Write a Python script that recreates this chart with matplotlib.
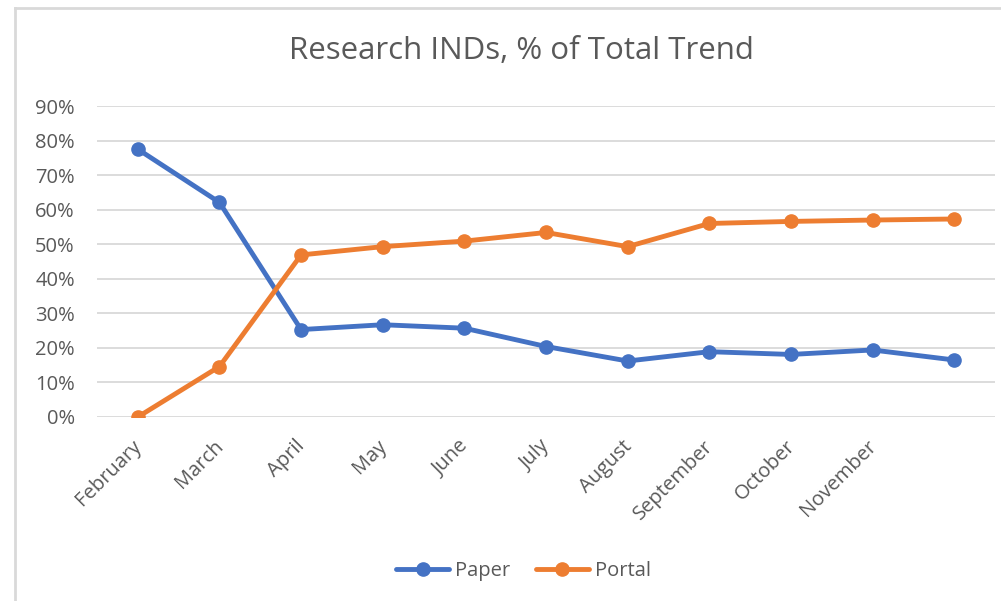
import matplotlib
matplotlib.use("Agg")
import matplotlib.pyplot as plt
from matplotlib.lines import Line2D
from matplotlib.ticker import PercentFormatter
from matplotlib.transforms import ScaledTranslation

# data
months = ["February", "March", "April", "May", "June", "July", "August",
          "September", "October", "November", ""]
paper = [77.5, 62.1, 25.3, 26.7, 25.7, 20.4, 16.2, 18.9, 18.1, 19.4, 16.5]
portal = [0.0, 14.6, 46.9, 49.3, 50.9, 53.4, 49.3, 56.0, 56.6, 57.0, 57.3]

plt.rcParams["font.family"] = ["Open Sans", "DejaVu Sans"]
grey = "#595959"

fig = plt.figure(figsize=(10.01, 6.01), dpi=100)
# chart frame: only the top and left edges are inside the picture
top = 1 - 8 / 601
left = 15 / 1001
fig.add_artist(Line2D([left, 1], [top, top], transform=fig.transFigure,
                      color="#d9d9d9", lw=2))
fig.add_artist(Line2D([left, left], [0, top], transform=fig.transFigure,
                      color="#d9d9d9", lw=2))

ax = fig.add_axes([97 / 1001, 1 - 417 / 601, 898 / 1001, 311 / 601])

x = range(len(months))
ax.plot(x, paper, color="#4472C4", lw=3.5, marker="o", ms=9.5, label="Paper",
        solid_capstyle="round", zorder=3)
ax.plot(x, portal, color="#ED7D31", lw=3.5, marker="o", ms=9.5, label="Portal",
        solid_capstyle="round", zorder=3)

ax.set_xlim(-0.5, len(months) - 0.5)
ax.set_ylim(0, 90)
ax.set_yticks(range(0, 91, 10))
ax.yaxis.set_major_formatter(PercentFormatter(decimals=0))
ax.set_xticks(list(x))
ax.set_xticklabels(months, rotation=45, ha="right", va="top",
                   rotation_mode="anchor")
ax.grid(axis="y", color="#d9d9d9", lw=1.3)
ax.set_axisbelow(True)
for s in ax.spines.values():
    s.set_visible(False)
ax.tick_params(length=0, colors=grey)
ax.tick_params(axis="y", labelsize=14.5, pad=16)
ax.tick_params(axis="x", labelsize=14.5, pad=14)
shift = ScaledTranslation(-6 / 100, 0, fig.dpi_scale_trans)
for lab in ax.get_xticklabels():
    lab.set_transform(lab.get_transform() + shift)

fig.text(0.521, 1 - 51 / 601, "Research INDs, % of Total Trend",
         ha="center", va="center", fontsize=22.5, color=grey)

fig.legend(loc="center", bbox_to_anchor=(0.523, 1 - 571 / 601), ncol=2,
           frameon=False, fontsize=14.5, labelcolor=grey, handlelength=2.6,
           columnspacing=1.3, handletextpad=0.3)

fig.savefig("out.png", dpi=100)
